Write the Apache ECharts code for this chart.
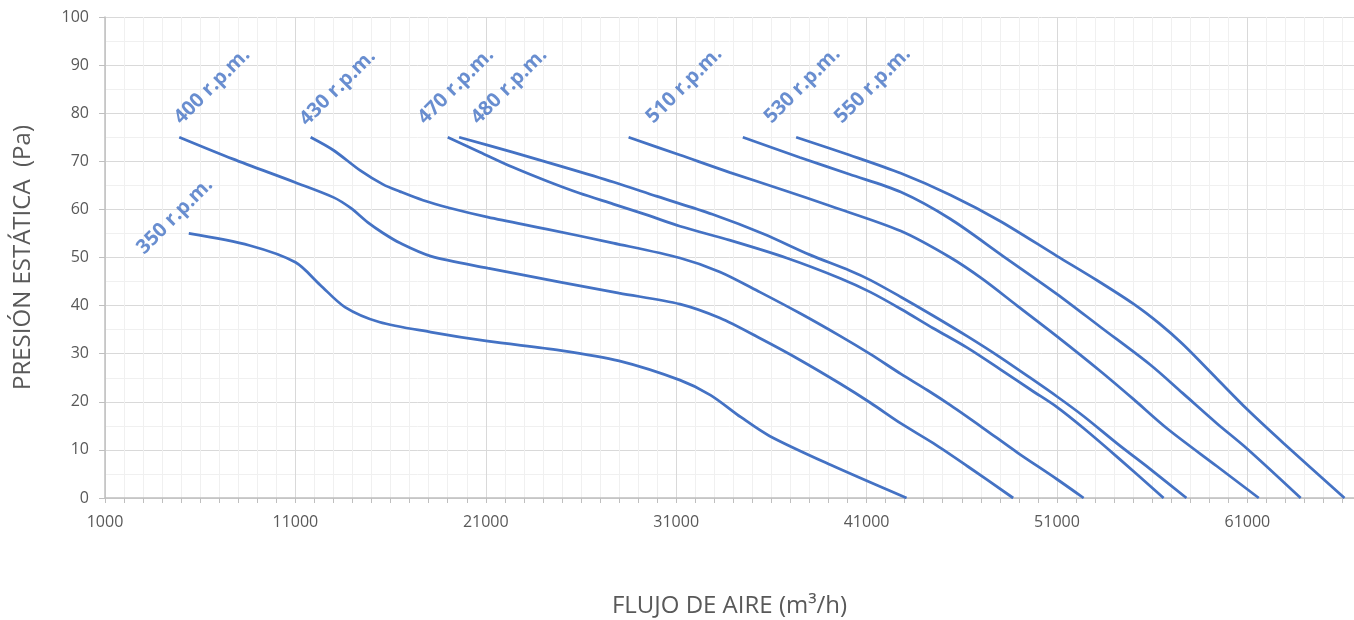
<!DOCTYPE html>
<html>
<head>
<meta charset="utf-8">
<script src="https://cdn.jsdelivr.net/npm/echarts@6/dist/echarts.min.js"></script>
<style>
  html, body { margin: 0; padding: 0; background: #fff; }
  #chart { width: 1354px; height: 620px; }
</style>
</head>
<body>
<div id="chart"></div>
<script>
  // curvas caudal (m3/h) / presion (Pa)
  const rpmNames = ['350 r.p.m.', '400 r.p.m.', '430 r.p.m.', '470 r.p.m.', '480 r.p.m.', '510 r.p.m.', '530 r.p.m.', '550 r.p.m.'];

  const curve350 = [[5400, 55], [8600, 52.5], [11000, 49], [12300, 44.3], [13600, 39.7], [15400, 36.6], [18100, 34.5], [21100, 32.6], [24900, 30.7], [28000, 28.5], [31200, 24.5], [32800, 21.4], [34400, 16.8], [35900, 12.9], [39100, 6.9], [43100, 0]];
  const curve400 = [[4900, 75], [7700, 70.5], [11000, 65.6], [13000, 62.5], [13900, 60.3], [14800, 57.3], [15600, 55.1], [16500, 53], [18100, 50.3], [21100, 47.8], [24900, 44.9], [28000, 42.6], [31200, 40.3], [33300, 37.4], [35400, 33.2], [37500, 28.7], [39600, 23.8], [41200, 19.8], [42800, 15.5], [44500, 11.4], [46300, 6.6], [48700, 0]];
  const curve430 = [[11800, 75], [13000, 72.3], [14400, 68.1], [15600, 65.2], [16500, 63.7], [17700, 61.9], [19100, 60.3], [21100, 58.4], [24200, 55.9], [27700, 53], [31200, 49.9], [33300, 47], [35400, 42.8], [37500, 38.4], [39600, 33.7], [41200, 29.9], [42800, 25.8], [44200, 22.4], [45400, 19.3], [47100, 14.6], [48900, 9.5], [51000, 3.9], [52400, 0]];
  const curve470 = [[19000, 75], [20700, 71.9], [22400, 68.8], [24200, 65.9], [25900, 63.4], [27700, 61.1], [29500, 58.8], [31200, 56.5], [33800, 53.6], [36800, 49.9], [39600, 45.7], [41200, 42.8], [42800, 39.3], [44500, 35.3], [46300, 31.2], [48000, 26.8], [49700, 22.3], [51000, 18.9], [52400, 14.5], [54200, 8.4], [56600, 0]];
  const curve480 = [[19600, 75], [22400, 71.9], [25100, 68.8], [27700, 65.7], [30000, 62.7], [32900, 59], [35600, 54.9], [38000, 50.6], [40100, 47.3], [41200, 45.3], [42800, 41.8], [44500, 37.9], [46300, 33.6], [48000, 29.3], [49700, 24.7], [51000, 21.1], [52400, 17], [54200, 11.2], [55900, 6], [57800, 0]];
  const curve510 = [[28500, 75], [31200, 71.3], [33800, 67.7], [36500, 64.2], [39100, 60.7], [42800, 55.5], [45400, 50], [47100, 45.5], [48900, 40], [51000, 33.6], [53300, 26.3], [55000, 20.6], [56800, 14.4], [59400, 6.6], [61600, 0]];
  const curve530 = [[34500, 75], [37500, 70.8], [40100, 67.3], [42800, 63.6], [45400, 58], [48200, 50.2], [51000, 42.4], [53300, 35.5], [55900, 27.7], [57600, 21.8], [59400, 15.5], [61000, 10.2], [63800, 0]];
  const curve550 = [[37300, 75], [40100, 71.3], [42800, 67.5], [45400, 63], [48000, 57.6], [51000, 50.3], [53000, 45.5], [55000, 40.4], [56400, 36.2], [57600, 32], [59400, 24.8], [61000, 18.4], [62900, 11.4], [66100, 0]];

  const curves = [curve350, curve400, curve430, curve470, curve480, curve510, curve530, curve550];

  // donde empieza cada rotulo (esquina inferior izquierda)
  const labelX = [3250, 5200, 11800, 18000, 20800, 30000, 36200, 39900];
  const labelY = [49.8, 76.8, 76.5, 76.8, 76.8, 77, 77, 77];

  const xMin = 1000, xMax = 66600;
  const yMin = 0, yMax = 100;

  const blue = '#4472C4';
  const gray = '#595959';
  const font = 'Open Sans';

  const chart = echarts.init(document.getElementById('chart'));

  // linea mayor cada 10000, menor cada 1000
  const xGridColors = ['#d9d9d9'];
  for (let i = 0; i < 9; i++) xGridColors.push('#f0f0f0');

  const series = curves.map((c, i) => ({
    name: rpmNames[i],
    type: 'line',
    data: c,
    smooth: 0.3,
    showSymbol: false,
    symbol: 'none',
    lineStyle: { color: blue, width: 2.75 },
    z: 3
  }));

  series.push({
    type: 'scatter',
    silent: true,
    symbolSize: 1,
    itemStyle: { color: 'rgba(0,0,0,0)' },
    data: rpmNames.map((n, i) => ({ name: n, value: [labelX[i], labelY[i]] })),
    label: {
      show: true,
      formatter: '{b}',
      position: [0, 0],
      rotate: 45,
      align: 'left',
      verticalAlign: 'bottom',
      color: blue,
      fontWeight: 'bold',
      fontSize: 20,
      fontFamily: font
    },
    z: 5
  });

  const option = {
    animation: false,
    grid: { left: 105, right: 0, top: 17, bottom: 122, outerBoundsMode: 'none' },
    xAxis: {
      type: 'value',
      min: xMin,
      max: xMax,
      interval: 1000,
      name: 'FLUJO DE AIRE (m³/h)',
      nameLocation: 'middle',
      nameGap: 96,
      nameTextStyle: { color: gray, fontSize: 24, fontFamily: font },
      axisLine: { show: true, lineStyle: { color: '#bfbfbf', width: 1.5 } },
      axisTick: { show: true, length: 5, lineStyle: { color: '#bfbfbf' } },
      axisLabel: {
        color: gray,
        fontSize: 16,
        fontFamily: font,
        margin: 16,
        formatter: v => ((v - xMin) % 10000 === 0 ? String(v) : '')
      },
      splitLine: { show: true, lineStyle: { color: xGridColors, width: 1 } }
    },
    yAxis: {
      type: 'value',
      min: yMin,
      max: yMax,
      interval: 10,
      name: 'PRESIÓN ESTÁTICA  (Pa)',
      nameLocation: 'middle',
      nameRotate: 90,
      nameGap: 70,
      nameTextStyle: { color: gray, fontSize: 24, fontFamily: font },
      axisLine: { show: true, lineStyle: { color: '#bfbfbf', width: 1.5 } },
      axisTick: { show: true, length: 6, lineStyle: { color: '#bfbfbf' } },
      axisLabel: { color: gray, fontSize: 16, fontFamily: font, margin: 16 },
      splitLine: { show: true, lineStyle: { color: '#d9d9d9', width: 1 } },
      minorTick: { show: false, splitNumber: 2 },
      minorSplitLine: { show: true, lineStyle: { color: '#f0f0f0', width: 1 } }
    },
    series: series
  };

  chart.setOption(option);
</script>
</body>
</html>
